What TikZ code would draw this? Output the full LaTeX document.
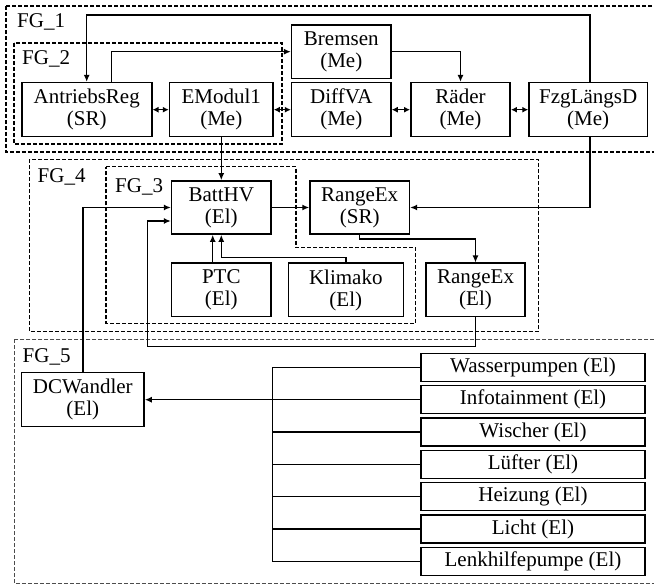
\documentclass[tikz,border=0pt]{standalone}
\usepackage{fontspec}
\setmainfont{Liberation Serif}
\usetikzlibrary{arrows.meta}

\tikzset{
  block/.style={draw, line width=1.6pt, align=center, inner sep=0pt, minimum height=54pt, font=\fontsize{21}{22}\selectfont},
  lbox/.style={draw, line width=1.6pt, inner sep=0pt, minimum width=224pt, minimum height=28pt, font=\fontsize{21}{22}\selectfont},
  grp/.style={line width=1.4pt, dash pattern=on 4pt off 2pt},
  grplabel/.style={anchor=base west, inner sep=0pt, font=\fontsize{21}{22}\selectfont},
  arr/.style={line width=1.5pt, -{Latex[length=7pt,width=6pt]}},
  darr/.style={line width=1.5pt, {Latex[length=6pt,width=6pt]}-{Latex[length=6pt,width=6pt]}},
  wire/.style={line width=1.5pt}
}

\begin{document}
\begin{tikzpicture}[x=1pt,y=-1pt]
        \useasboundingbox (0,0) rectangle (654,585);

        % function groups
        \draw[grp] (6,6) rectangle (660,152);
        \draw[grp] (14,43) rectangle (282,144);
        \draw[grp] (29.3,159.3) rectangle (538.3,331.7);
        \draw[grp] (106,166.7) -- (296,166.7) -- (296,247.7) -- (415.7,247.7) -- (415.7,323.3) -- (106,323.3) -- cycle;
        \draw[grp, black!70, line width=1pt] (14,339.3) rectangle (660,583.5);
        \node[grplabel] (fg1) at (17,28) {FG\_1};
        \node[grplabel] (fg2) at (22,65) {FG\_2};
        \node[grplabel] (fg4) at (37.5,182.3) {FG\_4};
        \node[grplabel] (fg3) at (115,192.3) {FG\_3};
        \node[grplabel] (fg5) at (22.5,362.3) {FG\_5};

        % mechanics
        \node[block, minimum width=130pt] (AR) at (86.7,109.7) {AntriebsReg\\(SR)};
        \node[block, minimum width=103.4pt] (EM) at (221.3,109.7) {EModul1\\(Me)};
        \node[block, minimum width=99.3pt, minimum height=53.3pt] (Br) at (341.3,51.7) {Bremsen\\(Me)};
        \node[block, minimum width=99.3pt] (DV) at (341.3,109.7) {DiffVA\\(Me)};
        \node[block, minimum width=99.3pt] (Ra) at (460.5,109.7) {Räder\\(Me)};
        \node[block, minimum width=118.3pt] (FL) at (588.2,109.7) {FzgLängsD\\(Me)};

        % high voltage
        \node[block, minimum width=99.3pt, minimum height=53pt] (BH) at (221.3,207.5) {BattHV\\(El)};
        \node[block, minimum width=99.3pt, minimum height=53pt] (RS) at (359.7,207.5) {RangeEx\\(SR)};
        \node[block, minimum width=99.3pt, minimum height=53.4pt] (PTC) at (221.3,290) {PTC\\(El)};
        \node[block, minimum width=115pt, minimum height=53.4pt] (KL) at (345.8,290) {Klimako\\(El)};
        \node[block, minimum width=99pt, minimum height=53.4pt] (RE) at (475.5,290) {RangeEx\\(El)};

        % low voltage
        \node[block, minimum width=122.3pt] (DC) at (82.8,399.7) {DCWandler\\(El)};
        \node[lbox] (WP) at (533,367.5) {Wasserpumpen (El)};
        \node[lbox] (IT) at (533,399.7) {Infotainment (El)};
        \node[lbox] (WI) at (533,432.1) {Wischer (El)};
        \node[lbox] (LU) at (533,464.4) {Lüfter (El)};
        \node[lbox] (HZ) at (533,496.7) {Heizung (El)};
        \node[lbox] (LI) at (533,529) {Licht (El)};
        \node[lbox] (LH) at (533,561.6) {Lenkhilfepumpe (El)};

        % helper points
        \coordinate (top) at (0,15);
        \coordinate (a1) at (111.7,0);
        \coordinate (p1) at (212.7,0);
        \coordinate (k1) at (221.3,257.3);
        \coordinate (b1) at (0,239);
        \coordinate (r1) at (147.7,346.7);
        \coordinate (r2) at (0,221);
        \coordinate (bus) at (272.7,0);

        \draw[arr] (FL.north -| 590,0) -- (590,15) -| (AR.north); % feedback to AntriebsReg
        \draw[arr] (AR.north -| a1) |- (Br.west); % brake request
        \draw[arr] (Br.east) -| (Ra.north); % brake torque
        \draw[darr] (AR.east) -- (EM.west);
        \draw[darr] (EM.east) -- (DV.west);
        \draw[darr] (DV.east) -- (Ra.west);
        \draw[darr] (Ra.east) -- (FL.west);
        \draw[arr] (EM.south) -- (BH.north); % motor current
        \draw[arr] (BH.east) -- (RS.west);
        \draw[arr] (FL.south -| 590,0) |- (RS.east); % vehicle state
        \draw[arr] (RS.south) -- (RS.south |- b1) -| (RE.north);
        \draw[arr] (PTC.north -| p1) -- (BH.south -| p1);
        \draw[arr] (KL.north) |- (k1) -- (BH.south);
        \draw[arr] (DC.north) |- (BH.west); % DC link
        \draw[arr] (RE.south) |- (r1) |- (BH.west |- r2); % generator power

        % consumer bus
        \draw[wire] (WP.west) -- (WP.west -| bus) -- (LH.west -| bus) -- (LH.west);
        \draw[wire] (WI.west) -- (WI.west -| bus);
        \draw[wire] (LU.west) -- (LU.west -| bus);
        \draw[wire] (HZ.west) -- (HZ.west -| bus);
        \draw[wire] (LI.west) -- (LI.west -| bus);
        \draw[arr] (IT.west) -- (DC.east);
    \end{tikzpicture}
\end{document}
